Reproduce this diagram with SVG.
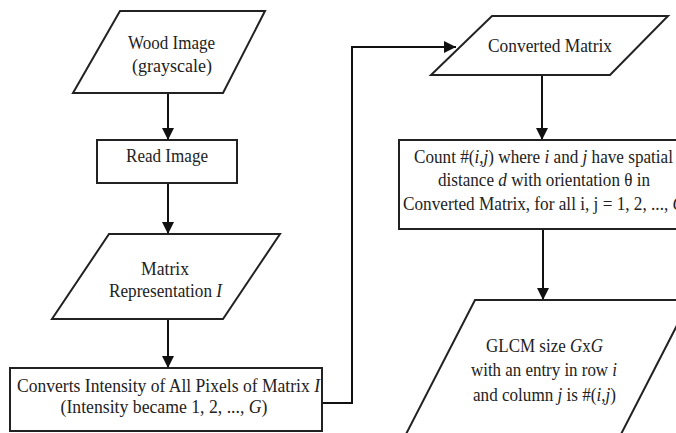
<svg xmlns="http://www.w3.org/2000/svg" width="676" height="433" viewBox="0 0 676 433">
<defs>
<marker id="ah" viewBox="0 0 12 12" refX="12" refY="6" markerWidth="12" markerHeight="12" markerUnits="userSpaceOnUse" orient="auto">
<path d="M0,0 L12,6 L0,12 Z" fill="#111"/>
</marker>
<style>
.shape{fill:#fff;stroke:#222;stroke-width:2}
.conn{fill:none;stroke:#111;stroke-width:2;marker-end:url(#ah)}
text{font-family:"Liberation Serif","Times New Roman",serif;font-size:18px;fill:#222;text-anchor:middle}
.it{font-style:italic}
</style>
</defs>
<rect width="676" height="433" fill="#fff"/>
<g id="connectors">
<line class="conn" x1="168" y1="93" x2="168" y2="140"/>
<line class="conn" x1="168" y1="183" x2="168" y2="234"/>
<line class="conn" x1="168" y1="319" x2="168" y2="368"/>
<polyline class="conn" points="322,403 352,403 352,47 456,47"/>
<line class="conn" x1="542" y1="75" x2="542" y2="140"/>
<line class="conn" x1="543" y1="229" x2="543" y2="300"/>
</g>
<g id="wood-image">
<polygon class="shape" points="120,11 265,11 223,93 73,93"/>
<text x="171.5" y="49" textLength="87" lengthAdjust="spacingAndGlyphs">Wood Image</text>
<text x="172" y="72" textLength="80" lengthAdjust="spacingAndGlyphs">(grayscale)</text>
</g>
<g id="read-image">
<rect class="shape" x="97" y="140" width="140" height="43"/>
<text x="167" y="162" textLength="82" lengthAdjust="spacingAndGlyphs">Read Image</text>
</g>
<g id="matrix-representation">
<polygon class="shape" points="109,234 280,234 223,319 52,319"/>
<text x="165" y="275" textLength="48" lengthAdjust="spacingAndGlyphs">Matrix</text>
<text x="165.5" y="297" textLength="113" lengthAdjust="spacingAndGlyphs">Representation <tspan class="it">I</tspan></text>
</g>
<g id="converts-intensity">
<rect class="shape" x="10" y="368" width="312" height="63"/>
<text x="168.5" y="392" textLength="303" lengthAdjust="spacingAndGlyphs">Converts Intensity of All Pixels of Matrix <tspan class="it">I</tspan></text>
<text x="164" y="413" textLength="207" lengthAdjust="spacingAndGlyphs">(Intensity became 1, 2, ..., <tspan class="it">G</tspan>)</text>
</g>
<g id="converted-matrix">
<polygon class="shape" points="492,16 668,16 610,75 431,75"/>
<text x="550" y="52" textLength="124" lengthAdjust="spacingAndGlyphs">Converted Matrix</text>
</g>
<g id="count">
<rect class="shape" x="399" y="140" width="290" height="89"/>
<text x="543.5" y="163" textLength="259" lengthAdjust="spacingAndGlyphs">Count #(<tspan class="it">i</tspan>,<tspan class="it">j</tspan>) where <tspan class="it">i</tspan> and <tspan class="it">j</tspan> have spatial</text>
<text x="544" y="186" textLength="212" lengthAdjust="spacingAndGlyphs">distance <tspan class="it">d</tspan> with orientation θ in</text>
<text x="544" y="210" textLength="282" lengthAdjust="spacingAndGlyphs">Converted Matrix, for all i, j = 1, 2, ..., <tspan class="it">G</tspan></text>
</g>
<g id="glcm">
<polygon class="shape" points="475,300 690,300 618,440 403,440"/>
<text x="544.5" y="352" textLength="117" lengthAdjust="spacingAndGlyphs">GLCM size <tspan class="it">G</tspan>x<tspan class="it">G</tspan></text>
<text x="544" y="376" textLength="146" lengthAdjust="spacingAndGlyphs">with an entry in row <tspan class="it">i</tspan></text>
<text x="544.5" y="401" textLength="143" lengthAdjust="spacingAndGlyphs">and column <tspan class="it">j</tspan> is #(<tspan class="it">i</tspan>,<tspan class="it">j</tspan>)</text>
</g>
</svg>
